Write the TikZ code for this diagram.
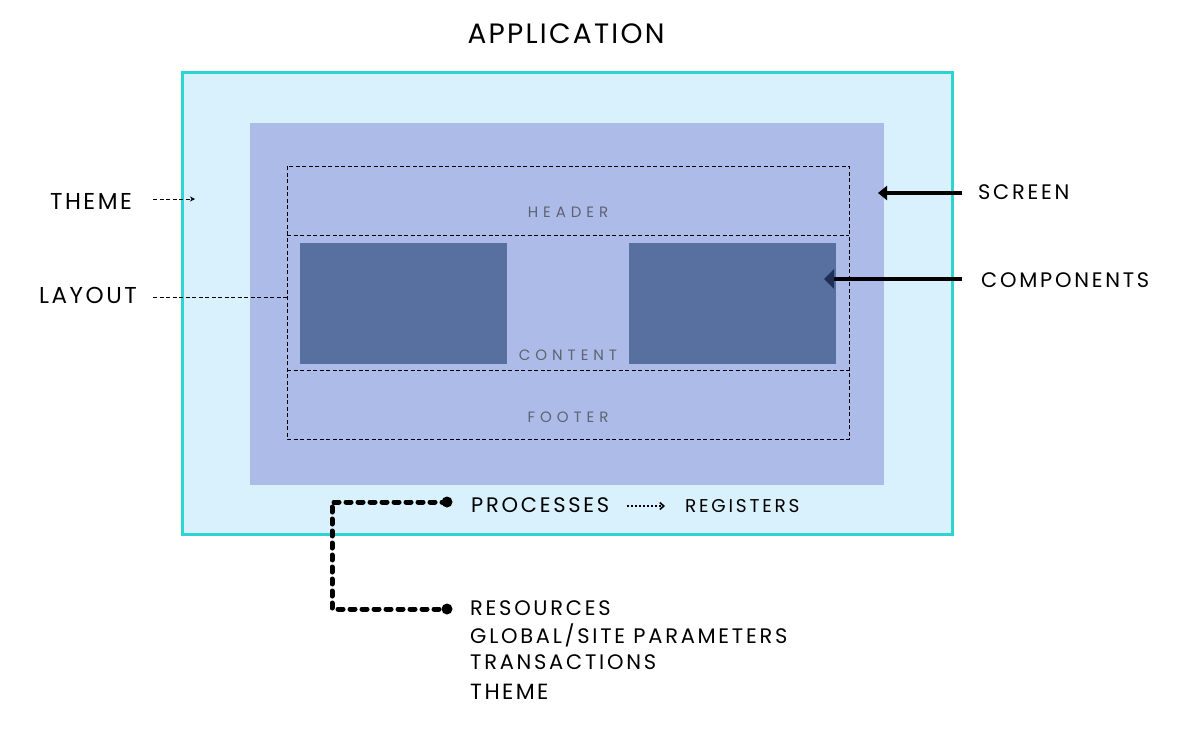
\documentclass[tikz,border=0pt]{standalone}
\usepackage{fontspec}
\setmainfont{Poppins}
\newfontfamily\lblA[LetterSpace=13]{Poppins}
\newfontfamily\lblB[LetterSpace=11]{Poppins}
\newfontfamily\lblC[LetterSpace=15]{Poppins}
\newfontfamily\lblT[LetterSpace=8]{Poppins}
\newfontfamily\wider[LetterSpace=33]{Poppins}
\usetikzlibrary{arrows.meta,calc}
\definecolor{appfill}{HTML}{D9F0FD}
\definecolor{appline}{HTML}{2ED3D3}
\definecolor{scrfill}{HTML}{ADBBE8}
\definecolor{compfill}{HTML}{5770A0}
\definecolor{graytxt}{HTML}{5E6370}
\definecolor{navy}{HTML}{1E2E55}
\tikzset{
  lbl/.style={inner sep=0pt, font=\lblA\fontsize{21}{24}\selectfont},
  biglbl/.style={inner sep=0pt, font=\lblB\fontsize{23}{26}\selectfont},
  inlbl/.style={inner sep=0pt, text=graytxt, font=\wider\fontsize{15}{18}\selectfont},
  region/.style={draw=black, line width=0.9pt, dash pattern=on 4pt off 2.5pt},
  thickarrow/.style={line width=4pt, -{Triangle[length=9pt,width=14pt]}},
  dotline/.style={line width=5pt, line cap=round, dash pattern=on 5pt off 7pt},
}
\begin{document}
\begin{tikzpicture}[x=1pt,y=-1pt]
\useasboundingbox (0,0) rectangle (1186,755);
\fill[white] (0,0) rectangle (1186,755);
% application
\draw[fill=appfill, draw=appline, line width=3pt] (182,72) rectangle (952,534);
\node (app) at (566,34) [inner sep=0pt, font=\lblT\fontsize{28}{32}\selectfont] {APPLICATION};
% screen
\fill[scrfill] (250,123) rectangle (884,485);
\coordinate (scr) at (878,193);
% components
\fill[compfill] (300,243) rectangle (507,364);
\fill[compfill] (629,243) rectangle (836,364);
\coordinate (comp) at (824,279);
% regions
\draw[region] (287,166) rectangle (849,439);
\draw[region] (287,235) -- (849,235);
\draw[region] (287,370) -- (849,370);
\node[inlbl] (hdr) at (568,212) {HEADER};
\node[inlbl] (cnt) at (568,355) {CONTENT};
\node[inlbl] (ftr) at (568,417) {FOOTER};
% left labels
\node[biglbl] (theme) at (91,201) {THEME};
\node[biglbl] (layout) at (88,295) {LAYOUT};
\coordinate (themeend) at (195,199);
\coordinate (layoutend) at (287,297);
\draw[line width=0.9pt, dash pattern=on 4pt off 2.5pt, -{Stealth[length=5pt,width=5pt]}] (153,199) -- (themeend);
\draw[line width=0.9pt, dash pattern=on 4pt off 2.5pt] (153,297) -- (layoutend);
% right labels
\node[lbl, anchor=west] (screen) at (978,192) {SCREEN};
\node[lbl, anchor=west] (components) at (981,280) {COMPONENTS};
\draw[thickarrow] (962,193) -- (scr);
\draw[line width=4pt, draw=black] (962,279) -- (833,279);
\fill[navy] (comp) -- (834,269) -- (834,289) -- cycle;
% processes
\node[lbl, anchor=west] (proc) at (471,505) {PROCESSES};
\node[inner sep=0pt, anchor=west, font=\lblC\fontsize{18.5}{22}\selectfont] (reg) at (685,506) {REGISTERS};
\coordinate (pa) at (627,506);
\coordinate (pb) at ($(reg.west)+(-20,0)$);
\draw[line width=1.6pt, dash pattern=on 2pt off 2pt, -{Straight Barb[length=4pt,width=7pt]}] (pa) -- (pb);
% dotted bracket
\coordinate (d1) at (447,502);
\coordinate (d2) at (447,609);
\fill (d1) circle (5.5pt);
\fill (d2) circle (5.5pt);
\draw[dotline] (d1) -- (332,502) -- (332,609) -- (d2);
% lists
\node[lbl, anchor=west] (res) at (470,608) {RESOURCES};
\node[lbl, anchor=west] (glob) at (470,635) {GLOBAL/SITE PARAMETERS};
\node[lbl, anchor=west] (trans) at (470,662) {TRANSACTIONS};
\node[inner sep=0pt, anchor=west, font=\lblB\fontsize{22}{26}\selectfont] (th2) at (470,692) {THEME};
\end{tikzpicture}
\end{document}
